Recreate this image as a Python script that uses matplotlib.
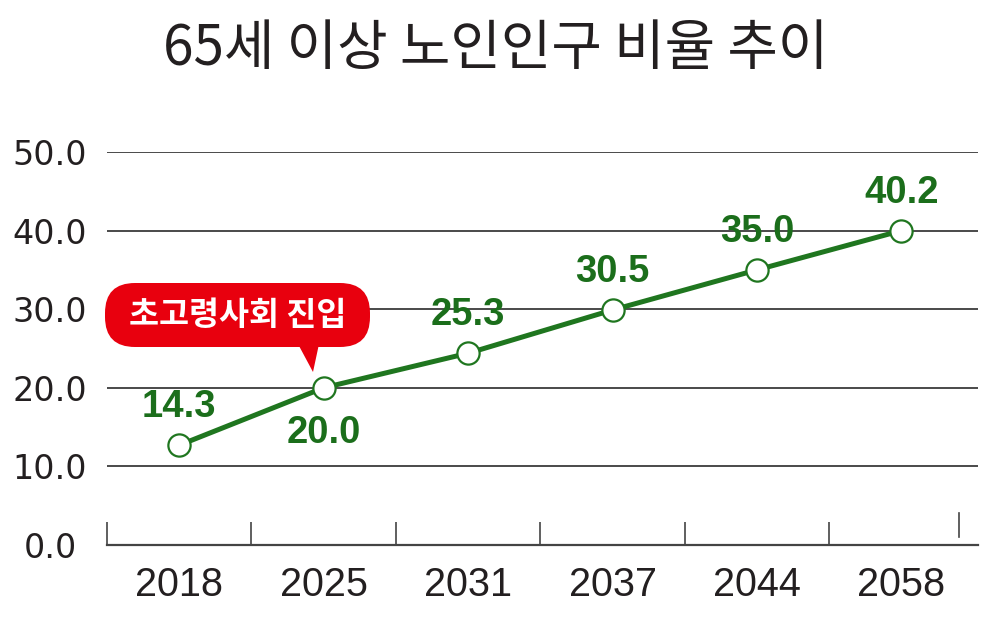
import matplotlib
matplotlib.use("Agg")
import matplotlib.pyplot as plt
from matplotlib.patches import FancyBboxPatch, Polygon
from matplotlib.transforms import Affine2D, blended_transform_factory

# ---- data ----
years = ["2018", "2025", "2031", "2037", "2044", "2058"]
plotted_values = [12.7, 20.0, 24.4, 29.9, 35.0, 40.0]   # marker positions as drawn
value_labels = ["14.3", "20.0", "25.3", "30.5", "35.0", "40.2"]
label_side = [1, -1, 1, 1, 1, 1]  # 1 = above, -1 = below
y_ticks = [0, 10, 20, 30, 40, 50]
y_tick_labels = ["0.0", "10.0", "20.0", "30.0", "40.0", "50.0"]
title = "65세 이상 노인인구 비율 추이"
callout = "초고령사회 진입"

GREEN = "#1b6e1b"
LINE_GREEN = "#1f761f"
RED = "#e8000e"
TXT = "#231f20"

plt.rcParams['font.family'] = ['Noto Sans CJK KR', 'DejaVu Sans']

fig = plt.figure(figsize=(10, 6.17), dpi=100)
ax = fig.add_axes([0.107, 1 - 545 / 617, 0.871, (545 - 152) / 617])

x = list(range(len(years)))
ax.plot(x, plotted_values, color=LINE_GREEN, lw=3.6, zorder=3,
        marker='o', markersize=16, markerfacecolor='white',
        markeredgecolor=LINE_GREEN, markeredgewidth=1.6)

for xi, v, lab, side in zip(x, plotted_values, value_labels, label_side):
    ax.annotate(lab, (xi, v), xytext=(0, 20 if side > 0 else -40),
                textcoords='offset points', ha='center', va='baseline',
                fontsize=27.5, fontweight='bold', color=GREEN,
                family=['Liberation Sans'], zorder=4)

ax.set_xlim(-0.49, 5.53)
ax.set_ylim(0, 50)

ax.set_yticks(y_ticks)
ax.set_yticklabels(y_tick_labels, fontsize=24, color=TXT, family=['DejaVu Sans'])
ax.tick_params(axis='y', length=0, pad=41)
for t in ax.get_yticklabels():
    t.set_horizontalalignment('center')

ax.set_xticks(x)
ax.set_xticklabels(years, fontsize=28.5, color=TXT, family=['Liberation Sans'])
ax.set_xticks([i + 0.5 for i in range(-1, 5)], minor=True)
ax.tick_params(axis='x', which='major', length=0, pad=15)
ax.tick_params(axis='x', which='minor', direction='in', length=16.5,
               width=1.2, color='#444444')

ax.grid(axis='y', color='#4a4a4a', lw=1.4)
ax.set_axisbelow(True)
for s in ['left', 'right', 'top']:
    ax.spines[s].set_visible(False)
ax.spines['bottom'].set_color('#444444')
ax.spines['bottom'].set_linewidth(1.6)

# stray tick mark near right end
btr = blended_transform_factory(ax.transData, ax.transAxes)
ax.plot([5.40, 5.40], [8 / 393, 32 / 393], color='#444444', lw=1.2,
        transform=btr, clip_on=False)

# title
fig.text(0.496, 1 - 49 / 617, title, ha='center', va='center',
         fontsize=39.5, color=TXT)

# callout (pixel coordinates from top-left)
pxt = Affine2D().scale(1 / 100).scale(1, -1).translate(0, 6.17) + fig.dpi_scale_trans
box = FancyBboxPatch((105 + 30, 283 + 30), 265 - 60, 64 - 60,
                     boxstyle="round,pad=30,rounding_size=30",
                     transform=pxt, facecolor=RED, edgecolor='none', zorder=5)
fig.add_artist(box)
tri = Polygon([(298, 344), (319, 344), (313, 372)], closed=True,
              transform=pxt, facecolor=RED, edgecolor='none', zorder=5)
fig.add_artist(tri)
fig.text(238 / 1000, 1 - 316 / 617, callout, ha='center', va='center',
         fontsize=23.5, fontweight='black', color='white', zorder=6)

fig.savefig("out.png", dpi=100, facecolor='white')
